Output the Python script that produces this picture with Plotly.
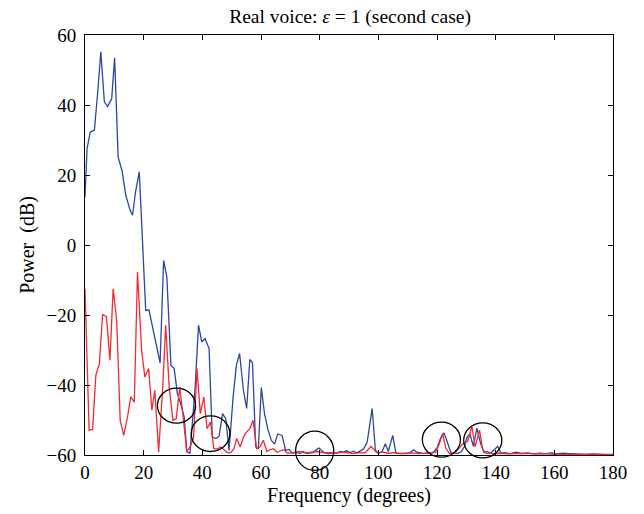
import plotly.graph_objects as go

# ---- data ----
blue_x = [0, 0.7, 1.8, 3.2, 4.3, 5.4, 6.6, 7.7, 9.1, 10.1, 11.3, 12.6, 13.9, 15.4, 16.2, 17.2, 18.5,
          20.7, 21.8, 23.6, 24.7, 25.6, 26.8, 27.9, 29.3, 30.4, 31.5, 32.6, 33.8, 34.7, 35.8, 37.6,
          38.7, 39.8, 40.9, 42.3, 43.4, 44.6, 45.7, 46.9, 48.0, 49.1, 50.5, 51.6, 52.7, 54.0, 55.1,
          56.2, 57.1, 58.2, 59.1, 60.1, 61.2, 62.4, 63.5, 64.6, 65.7, 67.2, 68.4, 69.5, 70.7, 72.0,
          73.2, 74.4, 75.5, 76.7, 77.8, 79.0, 79.8, 81.0, 82.2, 83.4, 84.5, 85.7, 86.9, 88.0, 89.2,
          90.4, 91.5, 92.7, 93.9, 95.0, 96.2, 97.9, 99.0, 100.2, 101.3, 102.4, 103.4, 104.9, 106.0,
          107.2, 108.4, 109.6, 110.8, 112.0, 113.1, 114.3, 115.5, 116.6, 117.8, 119.0, 120.1, 121.3,
          122.4, 123.6, 124.8, 125.9, 127.1, 128.3, 129.4, 130.2, 131.2, 132.4, 133.6, 134.8, 136.0,
          137.1, 138.3, 139.5, 140.7, 141.8, 143.0, 145.0, 147.0, 149.0, 151.0, 153.0, 155.0, 157.0,
          159.0, 161.0, 163.0, 165.0, 167.0, 169.0, 171.0, 173.0, 175.0, 177.0, 180.0]
blue_db = [13.7, 27.5, 32.3, 32.8, 43.3, 55.2, 40.9, 39.6, 41.8, 53.5, 25.1, 21.3, 14.2, 9.9, 8.5, 15.0, 20.9,
           -18.7, -18.5, -25.3, -30.1, -33.7, -4.4, -9.1, -34.4, -35.3, -42.5, -45.3, -49.1, -59.1, -59.5, -40.0,
           -22.9, -27.7, -26.7, -29.6, -54.9, -55.3, -54.7, -48.2, -49.6, -58.7, -43.4, -34.4, -31.0, -41.5, -46.7,
           -32.7, -33.7, -57.7, -58.2, -40.7, -48.2, -52.9, -55.8, -56.9, -54.0, -54.4, -58.7, -58.4, -59.5, -59.2,
           -59.6, -59.0, -59.5, -59.5, -59.3, -58.4, -58.0, -59.0, -59.5, -59.6, -59.3, -59.5, -59.0, -59.2, -58.8,
           -59.3, -58.9, -59.4, -58.8, -58.2, -56.3, -46.7, -58.7, -59.5, -59.0, -56.8, -59.0, -54.4, -59.5,
           -59.6, -59.5, -59.6, -59.3, -58.5, -59.2, -59.5, -59.6, -59.4, -59.5, -59.0, -57.8, -55.0,
           -53.7, -56.5, -59.5, -59.3, -59.6, -59.0, -57.5, -55.0, -53.9, -57.5, -52.3, -56.5, -59.3,
           -59.0, -59.5, -58.5, -57.5, -59.5, -59.3, -59.6, -59.2, -59.6, -59.4, -59.7, -59.5, -59.6,
           -59.4, -59.7, -59.5, -59.6, -59.7, -59.6, -59.8, -59.7, -59.8, -59.8, -59.8]

red_x = [0, 1.4, 2.6, 3.7, 4.9, 6.0, 7.3, 8.5, 9.6, 10.8, 12.0, 13.2, 14.5, 15.6, 16.8, 17.9, 19.3, 20.4,
         21.7, 22.8, 23.8, 25.1, 26.5, 27.5, 28.7, 30.0, 31.1, 32.3, 33.4, 34.7, 35.8, 37.0, 38.2, 39.3,
         40.5, 41.6, 42.8, 43.9, 45.1, 46.2, 47.4, 48.5, 49.7, 50.8, 51.7, 52.9, 54.0, 55.1, 56.2, 57.3,
         58.5, 59.6, 60.8, 62.0, 63.0, 64.3, 65.5, 66.6, 67.8, 69.0, 71.0, 73.0, 75.0, 77.0, 79.5, 81.5,
         83.5, 85.5, 87.5, 89.5, 91.5, 93.5, 95.5, 97.5, 99.5, 101.5, 103.5, 105.5, 107.5, 109.5, 111.5,
         113.5, 115.5, 117.5, 119.5, 120.7, 121.9, 123.0, 124.2, 126.0, 128.8, 130.5, 131.9, 133.0, 134.5,
         135.6, 136.7, 139.0, 141.0, 144.0, 147.0, 150.0, 153.0, 156.0, 160.0, 164.0, 168.0, 172.0, 176.0, 180.0]
red_db = [-12.5, -52.9, -52.7, -37.2, -33.9, -19.9, -20.4, -32.9, -12.5, -21.5, -50.1, -54.4, -49.1, -43.4, -44.9, -7.7, -30.1, -37.7,
          -35.3, -47.2, -41.5, -59.1, -40.6, -22.9, -40.6, -50.1, -49.6, -40.6, -48.7, -59.0, -57.7, -55.0, -35.3, -48.2,
          -43.4, -52.5, -50.6, -58.2, -58.3, -57.7, -58.5, -59.3, -59.3, -58.2, -55.3, -57.7, -54.9, -53.4, -52.5, -50.1,
          -58.2, -57.7, -55.8, -59.0, -58.5, -58.2, -59.3, -58.8, -58.5, -59.5, -59.3, -59.0, -59.4, -59.2, -59.0, -59.4,
          -59.3, -59.5, -59.2, -59.4, -59.6, -59.3, -59.4, -57.5, -59.4, -59.2, -59.5, -59.3, -59.6, -59.5, -59.4,
          -59.6, -59.5, -59.6, -59.3, -57.0, -53.9, -58.0, -59.5, -59.5, -56.8, -56.0, -51.8, -57.7, -52.9,
          -58.5, -59.5, -59.6, -59.5, -59.7, -59.6, -59.5, -59.7, -59.6, -59.8, -59.7, -59.8, -59.8, -59.8, -59.9]

# highlighted regions (centre degrees, centre dB, half-width degrees, half-height dB)
circle_cx = [31.2, 42.8, 78.3, 121.5, 135.6]
circle_cy = [-45.9, -53.9, -58.8, -55.6, -55.8]
circle_rx = [6.5, 6.6, 6.5, 6.5, 6.5]
circle_ry = [5.0, 5.1, 5.6, 5.0, 5.0]

x_ticks = list(range(0, 181, 20))
y_ticks = list(range(-60, 61, 20))
X_MIN, X_MAX = 0, 180
Y_MIN, Y_MAX = -60, 60

BLUE = "#2b47a6"
RED = "#f42a33"
FONT = "Liberation Serif"

fig = go.Figure()
fig.add_trace(go.Scatter(x=blue_x, y=blue_db, mode="lines",
                         line=dict(color=BLUE, width=1.3), showlegend=False))
fig.add_trace(go.Scatter(x=red_x, y=red_db, mode="lines",
                         line=dict(color=RED, width=1.3), showlegend=False))

def px(v):
    return (v - X_MIN) / (X_MAX - X_MIN)

def py(v):
    return (v - Y_MIN) / (Y_MAX - Y_MIN)

for cx, cy, rx, ry in zip(circle_cx, circle_cy, circle_rx, circle_ry):
    fig.add_shape(type="circle", xref="paper", yref="paper",
                  x0=px(cx - rx), x1=px(cx + rx), y0=py(cy - ry), y1=py(cy + ry),
                  line=dict(color="black", width=1.3))

axis_common = dict(showgrid=False, zeroline=False, showline=True, linecolor="black",
                   linewidth=1, mirror="ticks", ticks="inside", ticklen=5,
                   tickcolor="black", tickfont=dict(family=FONT, size=19, color="black"),
                   automargin=False)

fig.update_xaxes(range=[X_MIN, X_MAX], tickvals=x_ticks,
                 title=dict(text="Frequency (degrees)", font=dict(family=FONT, size=20, color="black"),
                            standoff=6),
                 **axis_common)
fig.update_yaxes(range=[Y_MIN, Y_MAX], tickvals=y_ticks, ticklabelstandoff=4,
                 title=dict(text="Power&nbsp;&nbsp;(dB)", font=dict(family=FONT, size=20, color="black"),
                            standoff=6),
                 **axis_common)

fig.update_layout(
    width=644, height=514,
    margin=dict(l=85, r=31, t=35, b=59),
    paper_bgcolor="white", plot_bgcolor="white",
    title=dict(text="Real voice: <i>ε</i> = 1 (second case)", x=0.5435, xanchor="center",
               y=0.969, yanchor="middle", font=dict(family=FONT, size=19.5, color="black")),
)

# remove the browser's default page margin so the figure sits at the window's corner
fig.write_html("out.html", config={"displayModeBar": False},
               post_script="document.body.style.margin='0';")
